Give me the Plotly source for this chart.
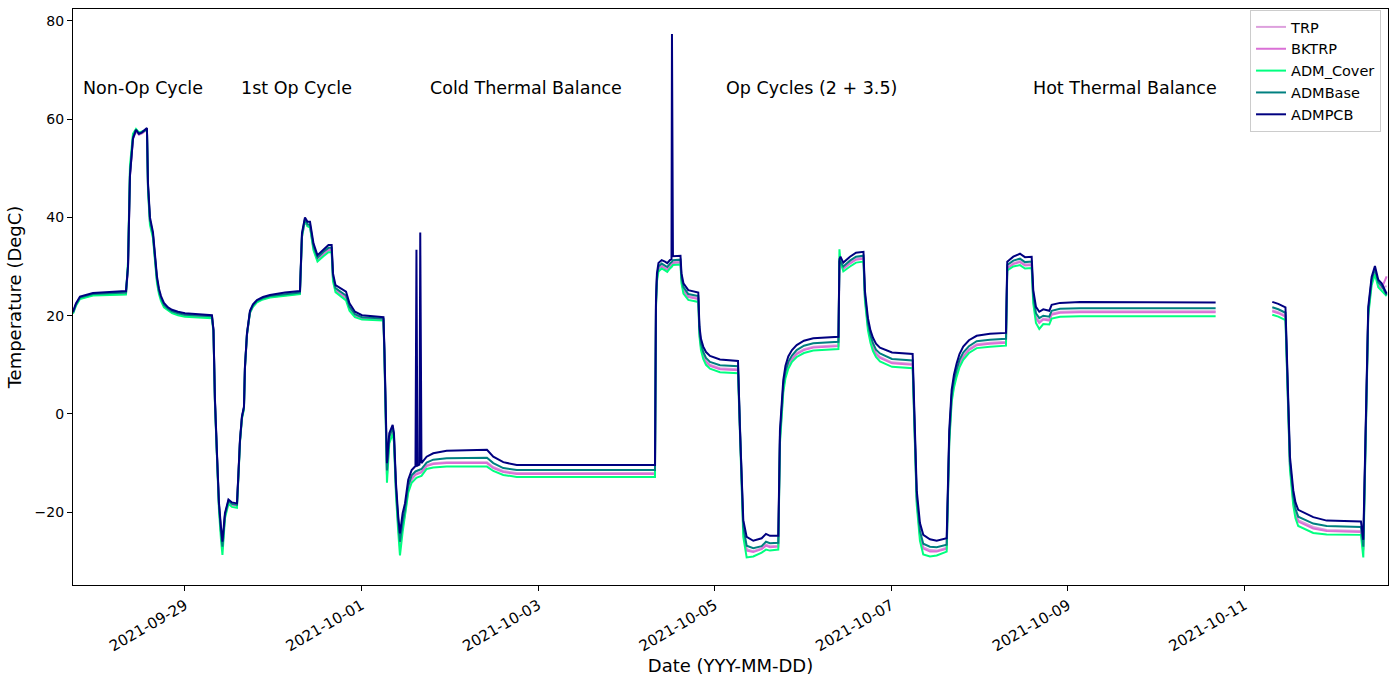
import plotly.graph_objects as go

# ---------------- data ----------------
TIMES = [
    # Non-Op cycle
    "2021-09-27 17:34", "2021-09-27 18:22", "2021-09-27 19:28", "2021-09-27 22:59", "2021-09-28 07:58",
    "2021-09-28 08:31", "2021-09-28 09:03", "2021-09-28 09:52", "2021-09-28 10:41", "2021-09-28 11:30",
    "2021-09-28 12:19", "2021-09-28 13:40", "2021-09-28 13:57", "2021-09-28 14:29", "2021-09-28 15:18",
    "2021-09-28 15:59", "2021-09-28 16:23", "2021-09-28 16:56", "2021-09-28 17:29", "2021-09-28 18:17",
    "2021-09-28 19:23", "2021-09-28 20:28", "2021-09-28 22:06", "2021-09-29 00:00", "2021-09-29 07:20",
    # first cold dip
    "2021-09-29 07:45", "2021-09-29 08:09", "2021-09-29 08:42", "2021-09-29 09:14", "2021-09-29 09:47",
    "2021-09-29 10:11", "2021-09-29 10:52", "2021-09-29 11:49", "2021-09-29 12:46", "2021-09-29 14:08",
    "2021-09-29 14:32", "2021-09-29 14:57", "2021-09-29 15:29", "2021-09-29 16:02", "2021-09-29 16:18",
    "2021-09-29 16:51", "2021-09-29 17:40", "2021-09-29 18:29", "2021-09-29 19:34", "2021-09-29 21:12",
    "2021-09-29 23:06", "2021-09-30 03:11", "2021-09-30 07:15",
    # 1st Op cycle
    "2021-09-30 07:48", "2021-09-30 08:37", "2021-09-30 09:18", "2021-09-30 09:59", "2021-09-30 10:56",
    "2021-09-30 12:01", "2021-09-30 13:38", "2021-09-30 15:00", "2021-09-30 15:52", "2021-09-30 16:14",
    "2021-09-30 16:55", "2021-09-30 18:40", "2021-09-30 19:46", "2021-09-30 20:43", "2021-09-30 22:12",
    "2021-10-01 00:07", "2021-10-01 05:57",
    # second dip + spikes
    "2021-10-01 06:13", "2021-10-01 06:38", "2021-10-01 06:54", "2021-10-01 07:32", "2021-10-01 08:27",
    "2021-10-01 08:48", "2021-10-01 09:21", "2021-10-01 09:58", "2021-10-01 10:26", "2021-10-01 11:10",
    "2021-10-01 11:48", "2021-10-01 12:41", "2021-10-01 13:37", "2021-10-01 14:39", "2021-10-01 14:55",
    "2021-10-01 15:11", "2021-10-01 15:44", "2021-10-01 15:57", "2021-10-01 16:17", "2021-10-01 17:41",
    "2021-10-01 19:29", "2021-10-01 23:08", "2021-10-02 10:05",
    # cold balance
    "2021-10-02 11:48", "2021-10-02 14:31", "2021-10-02 18:10", "2021-10-04 07:45",
    # Op cycle 2
    "2021-10-04 08:01", "2021-10-04 08:17", "2021-10-04 08:42", "2021-10-04 09:34", "2021-10-04 10:28",
    "2021-10-04 11:05", "2021-10-04 11:49", "2021-10-04 12:14", "2021-10-04 12:22", "2021-10-04 12:38",
    "2021-10-04 14:41", "2021-10-04 14:57", "2021-10-04 15:29", "2021-10-04 16:48", "2021-10-04 19:31",
    "2021-10-04 19:50", "2021-10-04 20:15", "2021-10-04 20:52", "2021-10-04 21:37", "2021-10-04 22:42",
    "2021-10-05 01:25", "2021-10-05 06:19",
    "2021-10-05 06:51", "2021-10-05 07:19", "2021-10-05 07:45", "2021-10-05 08:40", "2021-10-05 10:28",
    "2021-10-05 12:45", "2021-10-05 13:55", "2021-10-05 15:00", "2021-10-05 17:16", "2021-10-05 17:43",
    "2021-10-05 18:37", "2021-10-05 19:13", "2021-10-05 19:59", "2021-10-05 20:59", "2021-10-05 22:16",
    "2021-10-06 00:14", "2021-10-06 02:46", "2021-10-06 09:37",
    # Op cycle 3.5
    "2021-10-06 09:53", "2021-10-06 10:10", "2021-10-06 10:56", "2021-10-06 12:45", "2021-10-06 14:23",
    "2021-10-06 16:25", "2021-10-06 16:49", "2021-10-06 17:38", "2021-10-06 18:19", "2021-10-06 19:00",
    "2021-10-06 19:49", "2021-10-06 20:54", "2021-10-07 00:10", "2021-10-07 05:47",
    # cold dip 10-07
    "2021-10-07 06:25", "2021-10-07 06:53", "2021-10-07 07:46", "2021-10-07 08:40", "2021-10-07 10:29",
    "2021-10-07 12:19", "2021-10-07 15:02", "2021-10-07 15:44", "2021-10-07 16:23", "2021-10-07 17:01",
    "2021-10-07 17:45", "2021-10-07 18:31", "2021-10-07 19:32", "2021-10-07 21:05", "2021-10-07 23:11",
    "2021-10-08 02:48", "2021-10-08 07:09",
    # hot balance
    "2021-10-08 07:30", "2021-10-08 09:08", "2021-10-08 10:57", "2021-10-08 12:19", "2021-10-08 14:08",
    "2021-10-08 14:34", "2021-10-08 15:18", "2021-10-08 16:12", "2021-10-08 17:17", "2021-10-08 18:55",
    "2021-10-08 19:34", "2021-10-08 21:50", "2021-10-09 03:16", "2021-10-10 16:08",
    # data gap
    "2021-10-10 23:00",
    # last cycle
    "2021-10-11 07:32", "2021-10-11 09:10", "2021-10-11 11:07", "2021-10-11 11:53", "2021-10-11 12:20",
    "2021-10-11 13:14", "2021-10-11 13:50", "2021-10-11 14:35", "2021-10-11 16:25", "2021-10-11 18:40",
    "2021-10-11 22:19", "2021-10-12 07:38", "2021-10-12 08:16", "2021-10-12 09:00", "2021-10-12 09:37",
    "2021-10-12 10:32", "2021-10-12 11:26", "2021-10-12 12:20", "2021-10-12 13:16", "2021-10-12 14:37",
]

ADMPCB = [
    20.8, 22.5, 23.9, 24.6, 25.0, 30.0, 48.5, 56.0, 57.8, 57.0, 57.3, 58.2, 47.0, 40.0, 37.0,
    31.5, 28.0, 25.5, 24.0, 22.6, 21.7, 21.2, 20.8, 20.5, 20.1,
    17.0, 3.0, -8.0, -18.0, -23.0, -26.0, -20.2, -17.4, -18.0, -18.2, -12.0, -5.3, -0.5, 1.5, 9.6,
    16.4, 21.0, 22.3, 23.2, 23.8, 24.2, 24.7, 25.0,
    36.8, 40.0, 39.1, 39.1, 34.7, 32.3, 33.5, 34.4, 34.4, 28.6, 26.2, 25.4, 24.9, 22.5, 20.8, 20.1, 19.7,
    13.0, -3.9, -10.0, -3.9, -2.2, -3.9, -14.1, -20.9, -24.3, -20.2, -18.2, -13.4, -11.4, -10.6, 33.4,
    -10.5, -10.3, 36.9, -10.0, -8.7, -8.0, -7.5, -7.3,
    -8.7, -9.8, -10.4, -10.4,
    23.2, 28.6, 30.7, 31.3, 31.0, 30.7, 31.3, 31.5, 77.3, 32.1, 32.2, 28.6, 26.6, 25.2, 24.7,
    17.8, 15.3, 13.7, 12.6, 11.8, 11.1, 10.8,
    -3.3, -13.4, -21.6, -25.0, -25.8, -25.3, -24.4, -24.8, -24.8, -3.3, 6.9, 9.8, 11.7, 13.0, 14.0,
    14.9, 15.4, 15.7,
    31.5, 32.0, 30.8, 32.0, 32.8, 33.0, 25.0, 19.5, 17.0, 15.5, 14.3, 13.5, 12.5, 12.2,
    -3.3, -15.5, -22.2, -24.6, -25.5, -25.8, -25.3, -3.3, 4.9, 8.0, 10.3, 12.2, 13.7, 15.0, 15.9,
    16.3, 16.5,
    31.0, 32.0, 32.6, 31.9, 32.0, 25.2, 21.8, 20.8, 21.3, 21.0, 22.2, 22.6, 22.8, 22.7,
    None,
    22.8, 22.4, 21.7, 3.5, -8.7, -15.5, -18.0, -19.5, -20.2, -21.0, -21.7, -21.9, -25.6, 3.5, 21.8,
    27.9, 30.1, 27.3, 26.6, 24.5,
]

ADMBase = [
    20.6, 22.3, 23.7, 24.4, 24.7, 30.0, 49.0, 56.3, 57.8, 57.0, 57.3, 58.0, 46.5, 39.5, 36.5,
    31.0, 27.5, 25.0, 23.6, 22.2, 21.4, 20.9, 20.5, 20.2, 19.9,
    17.0, 2.5, -8.5, -18.5, -24.0, -27.0, -20.6, -17.7, -18.3, -18.5, -12.3, -5.5, -0.7, 1.3, 9.4,
    16.2, 20.8, 22.1, 23.0, 23.6, 24.0, 24.4, 24.7,
    36.5, 39.7, 38.6, 38.5, 34.1, 31.8, 33.0, 33.8, 33.8, 28.0, 25.6, 24.6, 24.1, 21.8, 20.3, 19.7, 19.4,
    12.5, -4.5, -11.5, -4.6, -2.8, -4.5, -15.0, -22.0, -26.0, -22.0, -19.5, -14.6, -12.5, -11.7, -11.6,
    -11.5, -11.4, -11.3, -11.2, -9.9, -9.3, -9.0, -8.9,
    -10.0, -11.0, -11.4, -11.4,
    22.5, 28.0, 30.0, 30.6, 30.2, 29.9, 30.6, 30.8, 31.0, 31.3, 31.4, 27.8, 25.8, 24.4, 24.0,
    17.0, 14.3, 12.6, 11.4, 10.6, 9.9, 9.7,
    -4.3, -14.6, -23.0, -26.8, -27.3, -26.9, -26.0, -26.3, -26.2, -4.5, 5.8, 8.7, 10.6, 11.9, 13.0,
    13.9, 14.4, 14.7,
    31.0, 31.0, 30.0, 31.2, 32.0, 32.2, 24.2, 18.5, 16.0, 14.4, 13.1, 12.3, 11.2, 10.9,
    -4.3, -16.8, -23.8, -26.4, -27.0, -27.1, -26.6, -4.5, 3.8, 6.9, 9.1, 11.0, 12.5, 13.8, 14.8,
    15.1, 15.3,
    30.3, 31.2, 31.6, 30.9, 31.0, 24.0, 20.5, 19.5, 20.0, 19.8, 21.0, 21.4, 21.5, 21.5,
    None,
    21.7, 21.3, 20.6, 2.5, -9.8, -16.8, -19.3, -20.9, -21.5, -22.3, -22.8, -23.0, -27.0, 2.5, 21.0,
    27.3, 29.5, 26.8, 26.1, 24.2,
]

BKTRP = [
    20.5, 22.2, 23.5, 24.2, 24.4, 29.5, 48.5, 56.0, 57.5, 56.8, 57.1, 57.8, 46.0, 39.0, 36.2,
    30.5, 27.2, 24.8, 23.4, 22.0, 21.2, 20.7, 20.3, 20.0, 19.7,
    17.0, 2.5, -8.5, -18.5, -24.0, -27.5, -20.8, -17.9, -18.5, -18.7, -12.5, -5.6, -0.8, 1.2, 9.2,
    16.0, 20.6, 21.9, 22.8, 23.4, 23.8, 24.2, 24.5,
    36.0, 39.3, 38.2, 38.1, 33.6, 31.4, 32.5, 33.3, 33.3, 27.5, 25.2, 24.2, 23.6, 21.4, 20.0, 19.4, 19.2,
    12.0, -5.0, -12.5, -5.2, -3.3, -5.0, -15.5, -23.0, -27.0, -23.0, -20.3, -15.4, -13.3, -12.4, -12.3,
    -12.2, -12.1, -12.0, -11.9, -10.6, -10.2, -10.0, -10.0,
    -11.0, -11.8, -12.2, -12.2,
    22.0, 27.5, 29.5, 30.0, 29.6, 29.3, 30.0, 30.2, 30.4, 30.7, 30.8, 27.2, 25.1, 23.8, 23.4,
    16.4, 13.6, 11.8, 10.6, 9.8, 9.1, 8.9,
    -5.0, -15.4, -24.0, -27.8, -28.1, -27.5, -26.8, -27.1, -27.0, -5.3, 5.0, 7.9, 9.8, 11.1, 12.2,
    13.0, 13.5, 13.8,
    31.0, 30.5, 29.5, 30.6, 31.4, 31.6, 23.6, 17.8, 15.2, 13.5, 12.2, 11.4, 10.3, 10.0,
    -5.0, -17.6, -24.8, -27.4, -28.0, -28.0, -27.4, -5.3, 3.0, 6.0, 8.2, 10.1, 11.6, 13.0, 14.0,
    14.3, 14.5,
    29.6, 30.5, 30.9, 30.2, 30.3, 23.2, 19.5, 18.5, 19.2, 19.0, 20.2, 20.6, 20.7, 20.7,
    None,
    20.9, 20.5, 19.8, 1.8, -10.6, -17.7, -20.3, -21.9, -22.6, -23.3, -23.8, -24.0, -27.8, 2.0, 20.5,
    26.8, 29.0, 26.3, 25.6, 28.0,
]

TRP = [
    20.6, 22.3, 23.6, 24.3, 24.5, 29.6, 48.6, 56.1, 57.6, 56.9, 57.2, 57.9, 46.2, 39.2, 36.4,
    30.7, 27.4, 25.0, 23.5, 22.1, 21.3, 20.8, 20.4, 20.1, 19.8,
    17.0, 2.6, -8.4, -18.4, -23.8, -27.3, -20.7, -17.8, -18.4, -18.6, -12.4, -5.5, -0.7, 1.3, 9.3,
    16.1, 20.7, 22.0, 22.9, 23.5, 23.9, 24.3, 24.6,
    36.2, 39.4, 38.3, 38.2, 33.8, 31.5, 32.7, 33.5, 33.5, 27.7, 25.4, 24.4, 23.8, 21.6, 20.1, 19.5, 19.3,
    12.2, -4.8, -12.2, -5.0, -3.1, -4.8, -15.3, -22.7, -26.6, -22.7, -20.0, -15.2, -13.1, -12.2, -12.1,
    -12.0, -11.9, -11.8, -11.7, -10.4, -10.0, -9.8, -9.8,
    -10.8, -11.6, -12.0, -12.0,
    22.2, 27.7, 29.7, 30.2, 29.8, 29.5, 30.2, 30.4, 30.6, 30.9, 31.0, 27.4, 25.3, 24.0, 23.6,
    16.6, 13.8, 12.0, 10.8, 10.0, 9.3, 9.1,
    -4.8, -15.2, -23.7, -27.5, -27.9, -27.3, -26.6, -26.9, -26.8, -5.1, 5.2, 8.1, 10.0, 11.3, 12.4,
    13.2, 13.7, 14.0,
    31.2, 30.7, 29.7, 30.8, 31.6, 31.8, 23.8, 18.0, 15.4, 13.7, 12.4, 11.6, 10.5, 10.2,
    -4.8, -17.4, -24.5, -27.1, -27.7, -27.8, -27.2, -5.1, 3.2, 6.2, 8.4, 10.3, 11.8, 13.2, 14.2,
    14.5, 14.7,
    29.8, 30.7, 31.1, 30.4, 30.5, 23.4, 19.7, 18.8, 19.4, 19.2, 20.4, 20.8, 20.9, 20.9,
    None,
    21.1, 20.7, 20.0, 2.0, -10.4, -17.5, -20.0, -21.6, -22.3, -23.0, -23.6, -23.8, -27.5, 2.2, 20.7,
    27.0, 29.2, 26.5, 25.8, 26.0,
]

ADM_Cover = [
    20.4, 22.0, 23.4, 24.1, 24.3, 31.0, 50.5, 57.0, 58.0, 57.3, 57.5, 57.8, 45.5, 38.5, 35.8,
    30.0, 26.7, 24.4, 23.0, 21.7, 21.0, 20.5, 20.1, 19.8, 19.5,
    16.5, 2.0, -9.0, -19.5, -25.5, -28.7, -21.2, -18.3, -18.9, -19.1, -12.8, -5.8, -1.0, 1.0, 9.3,
    16.2, 20.6, 21.8, 22.7, 23.3, 23.7, 24.1, 24.4,
    36.0, 39.5, 38.2, 38.0, 33.3, 31.0, 32.1, 32.9, 32.9, 27.0, 24.8, 23.7, 23.1, 21.0, 19.7, 19.2, 19.0,
    11.5, -6.0, -14.0, -6.0, -4.0, -5.7, -16.5, -24.0, -28.8, -24.0, -21.0, -16.0, -14.0, -13.1, -13.0,
    -12.9, -12.8, -12.7, -12.6, -11.2, -10.9, -10.7, -10.7,
    -11.6, -12.4, -12.8, -12.8,
    21.5, 27.0, 29.0, 29.6, 29.2, 28.9, 29.6, 29.8, 30.0, 30.3, 30.4, 26.6, 24.5, 23.2, 22.8,
    15.8, 13.0, 11.2, 10.0, 9.2, 8.5, 8.3,
    -5.5, -16.0, -25.0, -29.2, -29.0, -28.2, -27.6, -27.8, -27.6, -6.0, 4.4, 7.3, 9.2, 10.6, 11.6,
    12.4, 12.9, 13.2,
    33.5, 31.0, 29.0, 30.0, 30.8, 31.0, 23.0, 17.0, 14.5, 12.8, 11.6, 10.7, 9.6, 9.3,
    -5.6, -18.4, -25.8, -28.6, -29.0, -28.8, -28.0, -6.0, 2.4, 5.4, 7.6, 9.5, 11.0, 12.4, 13.4,
    13.7, 13.9,
    29.2, 30.0, 30.3, 29.6, 29.7, 22.5, 18.5, 17.3, 18.3, 18.2, 19.4, 19.8, 19.9, 19.9,
    None,
    20.2, 19.8, 19.1, 1.2, -11.3, -18.6, -21.2, -22.8, -23.5, -24.2, -24.5, -24.6, -29.2, 1.5, 20.0,
    26.2, 28.4, 25.8, 25.1, 24.0,
]

SERIES_NAMES = ["TRP", "BKTRP", "ADM_Cover", "ADMBase", "ADMPCB"]
SERIES_VALUES = [TRP, BKTRP, ADM_Cover, ADMBase, ADMPCB]
SERIES_COLORS = ["#DDA0DD", "#DA70D6", "#00FF7F", "#008080", "#000080"]

PHASE_LABELS = ["Non-Op Cycle", "1st Op Cycle", "Cold Thermal Balance", "Op Cycles (2 + 3.5)", "Hot Thermal Balance"]
PHASE_TIMES = ["2021-09-27 19:40", "2021-09-29 14:40", "2021-10-01 18:00", "2021-10-05 02:30", "2021-10-08 14:00"]
PHASE_Y = 66.4

X_TICKS = ["2021-09-29", "2021-10-01", "2021-10-03", "2021-10-05", "2021-10-07", "2021-10-09", "2021-10-11"]
Y_TICKS = [-20, 0, 20, 40, 60, 80]

# ---------------- figure ----------------
FONT = "DejaVu Sans, Liberation Sans, sans-serif"
fig = go.Figure()
for name, vals, col in zip(SERIES_NAMES, SERIES_VALUES, SERIES_COLORS):
    fig.add_trace(go.Scatter(x=TIMES, y=vals, mode="lines", name=name,
                             line=dict(color=col, width=2), connectgaps=False))

for txt, t in zip(PHASE_LABELS, PHASE_TIMES):
    fig.add_annotation(x=t, y=PHASE_Y, text=txt, showarrow=False, xanchor="left", yanchor="middle",
                       font=dict(family=FONT, size=17.5, color="black"))

axis_common = dict(showline=True, linecolor="black", linewidth=1.2, mirror=True, ticks="outside",
                   ticklen=5, tickwidth=1.2, tickcolor="black", showgrid=False, zeroline=False,
                   automargin=False)

fig.update_layout(
    width=1400, height=679,
    margin=dict(l=73, r=12, t=9, b=94),
    plot_bgcolor="white", paper_bgcolor="white",
    font=dict(family=FONT, size=14, color="black"),
    xaxis=dict(type="date", range=["2021-09-27 17:34", "2021-10-12 14:59"],
               tickvals=X_TICKS, ticktext=X_TICKS, tickangle=-30,
               tickfont=dict(family=FONT, size=15, color="black"),
               title=dict(text="Date (YYY-MM-DD)", font=dict(family=FONT, size=18), standoff=4),
               **axis_common),
    yaxis=dict(range=[-34.8, 82.4], tickvals=Y_TICKS,
               tickfont=dict(family=FONT, size=14, color="black"),
               title=dict(text="Temperature (DegC)", font=dict(family=FONT, size=18), standoff=8),
               **axis_common),
    legend=dict(x=0.9947, y=0.9983, xanchor="right", yanchor="top",
                bgcolor="rgba(255,255,255,0.8)", bordercolor="#cccccc", borderwidth=1,
                font=dict(family=FONT, size=14.5, color="black"), tracegroupgap=0),
    showlegend=True,
)

fig.write_html("out.html", include_plotlyjs=True, config={"displayModeBar": False},
               post_script="document.body.style.margin='0';document.body.style.overflow='hidden';")
